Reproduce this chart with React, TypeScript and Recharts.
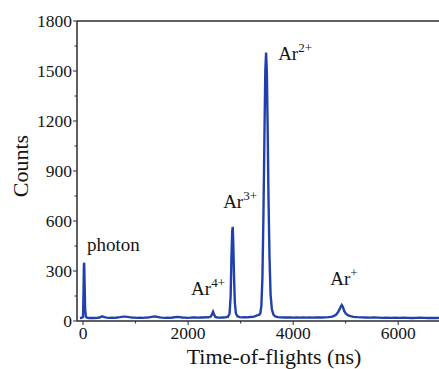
import React from 'react';
import { LineChart, Line, XAxis, YAxis, ReferenceLine, ReferenceDot } from 'recharts';

// time-of-flight (ns) and counts
const tofNs = [
  -60, -30, 0, 8, 16, 22, 30, 40, 55, 80,
  120, 170, 220, 270, 310, 340, 360, 380, 410, 450,
  500, 550, 600, 650, 700, 740, 770, 800, 840, 880,
  930, 980, 1030, 1080, 1130, 1180, 1230, 1280, 1330, 1370,
  1410, 1460, 1510, 1560, 1610, 1660, 1710, 1760, 1800, 1840,
  1890, 1940, 1990, 2040, 2090, 2140, 2190, 2240, 2290, 2340,
  2390, 2430, 2455, 2475, 2495, 2520, 2560, 2610, 2660, 2710,
  2760, 2790, 2810, 2825, 2840, 2850, 2860, 2875, 2890, 2910,
  2940, 2980, 3030, 3080, 3130, 3180, 3230, 3270, 3300, 3330,
  3355, 3375, 3395, 3415, 3435, 3455, 3470, 3485, 3500, 3515,
  3530, 3550, 3570, 3595, 3625, 3660, 3710, 3770, 3830, 3890,
  3950, 4010, 4070, 4130, 4190, 4250, 4310, 4370, 4430, 4490,
  4550, 4610, 4670, 4720, 4770, 4810, 4850, 4880, 4905, 4925,
  4945, 4970, 5000, 5040, 5090, 5150, 5220, 5300, 5380, 5460,
  5540, 5620, 5700, 5780, 5860, 5940, 6020, 6100, 6180, 6260,
  6340, 6420, 6500, 6580, 6660, 6740, 6820, 6900, 7000, 7100,
  7200, 7300, 7400,
];

const counts = [
  18, 19, 24, 150, 330, 350, 220, 70, 26, 19,
  18, 19, 18, 19, 21, 25, 28, 26, 23, 20,
  19, 20, 19, 21, 23, 25, 26, 26, 25, 23,
  21, 20, 19, 20, 19, 20, 21, 23, 26, 27,
  25, 22, 20, 19, 20, 19, 21, 23, 24, 23,
  21, 20, 19, 20, 22, 21, 20, 22, 21, 23,
  22, 27, 40, 55, 38, 24, 21, 20, 21, 22,
  26, 45, 150, 380, 540, 565, 470, 260, 110, 45,
  28, 23, 22, 23, 22, 24, 25, 28, 32, 35,
  38, 45, 90, 260, 650, 1150, 1500, 1610, 1480, 1150,
  750, 380, 160, 70, 38, 27, 23, 22, 21, 22,
  21, 20, 21, 20, 21, 20, 21, 20, 21, 22,
  21, 22, 23, 25, 29, 36, 50, 68, 85, 96,
  86, 62, 45, 35, 29, 25, 23, 22, 21, 20,
  21, 20, 19, 20, 19, 20, 19, 20, 19, 18,
  19, 20, 19, 18, 19, 18, 19, 18, 19, 18,
  19, 18, 18,
];

const xTicks = [0, 1000, 2000, 3000, 4000, 5000, 6000, 7000];
const yTicks = [0, 150, 300, 450, 600, 750, 900, 1050, 1200, 1350, 1500, 1650, 1800];

// peak labels, anchored in data coordinates (text start / baseline)
const peakLabels = [
  { ion: 'photon', charge: '', t: 76, c: 420 },
  { ion: 'Ar', charge: '4+', t: 2057, c: 156 },
  { ion: 'Ar', charge: '3+', t: 2667, c: 678 },
  { ion: 'Ar', charge: '2+', t: 3714, c: 1566 },
  { ion: 'Ar', charge: '+', t: 4705, c: 216 },
];

const spectrum = tofNs.map((t, i) => ({ t, counts: counts[i] }));

const FONT = '"Liberation Serif", "Times New Roman", serif';
const AXIS = '#2b2b2b';
const TEXT = '#151515';
const LINE = '#2140ad';

const XTick = (props: any) => {
  const { x, y, payload } = props;
  const major = payload.value % 2000 === 0;
  return (
    <g>
      <line x1={x} y1={y} x2={x} y2={y + (major ? 4 : 2.5)} stroke={AXIS} strokeWidth={1} />
      {major && (
        <text
          x={x}
          y={y + 18}
          textAnchor="middle"
          fontSize={17.5}
          fill={TEXT}
          style={{ fontFamily: FONT }}
        >
          {payload.value}
        </text>
      )}
    </g>
  );
};

const YTick = (props: any) => {
  const { x, y, payload } = props;
  const major = payload.value % 300 === 0;
  return (
    <g>
      <line x1={x} y1={y} x2={x - (major ? 4 : 2.5)} y2={y} stroke={AXIS} strokeWidth={1} />
      {major && (
        <text
          x={x - 5}
          y={y + 6}
          textAnchor="end"
          fontSize={17.5}
          fill={TEXT}
          style={{ fontFamily: FONT }}
        >
          {payload.value}
        </text>
      )}
    </g>
  );
};

const PeakText = ({ cx, cy, ion, charge }: any) => (
  <text x={cx} y={cy} fontSize={19} fill={TEXT} style={{ fontFamily: FONT }}>
    {ion}
    {charge && (
      <tspan dy={-8} fontSize={13}>
        {charge}
      </tspan>
    )}
  </text>
);

const App = () => {
  return (
    <div
      style={{
        position: 'absolute',
        left: 0,
        top: 0,
        width: 439,
        height: 369,
        overflow: 'hidden',
        background: '#fff',
      }}
    >
      <LineChart
        width={500}
        height={369}
        data={spectrum}
        margin={{ top: 21, right: 23, left: 17, bottom: 0 }}
      >
        <XAxis
          dataKey="t"
          type="number"
          domain={[-115, 7500]}
          ticks={xTicks}
          allowDataOverflow
          height={48}
          axisLine={{ stroke: AXIS, strokeWidth: 1.5 }}
          tickLine={false}
          tickSize={0}
          tickMargin={0}
          tick={<XTick />}
          label={{
            content: ({ viewBox }: any) => (
              <text
                x={viewBox.x + viewBox.width / 2 - 3}
                y={viewBox.y + 43}
                textAnchor="middle"
                fontSize={22}
                fill={TEXT}
                style={{ fontFamily: FONT }}
              >
                Time-of-flights (ns)
              </text>
            ),
          }}
        />
        <YAxis
          type="number"
          domain={[0, 1800]}
          ticks={yTicks}
          width={60}
          axisLine={{ stroke: AXIS, strokeWidth: 1.5 }}
          tickLine={false}
          tickSize={0}
          tickMargin={0}
          tick={<YTick />}
          label={{
            content: ({ viewBox }: any) => {
              const lx = viewBox.x + 11;
              const ly = viewBox.y + viewBox.height / 2 - 5;
              return (
                <text
                  x={lx}
                  y={ly}
                  transform={`rotate(-90 ${lx} ${ly})`}
                  textAnchor="middle"
                  fontSize={22}
                  fill={TEXT}
                  style={{ fontFamily: FONT }}
                >
                  Counts
                </text>
              );
            },
          }}
        />
        <ReferenceLine y={1800} stroke={AXIS} strokeWidth={1.5} />
        <ReferenceLine x={7500} stroke={AXIS} strokeWidth={1.5} />
        <Line
          type="linear"
          dataKey="counts"
          stroke={LINE}
          strokeWidth={2.4}
          dot={false}
          isAnimationActive={false}
        />
        {peakLabels.map((p) => (
          <ReferenceDot
            key={p.ion + p.charge}
            x={p.t}
            y={p.c}
            r={0}
            shape={(s: any) => <PeakText cx={s.cx} cy={s.cy} ion={p.ion} charge={p.charge} />}
          />
        ))}
      </LineChart>
    </div>
  );
};

export default App;
